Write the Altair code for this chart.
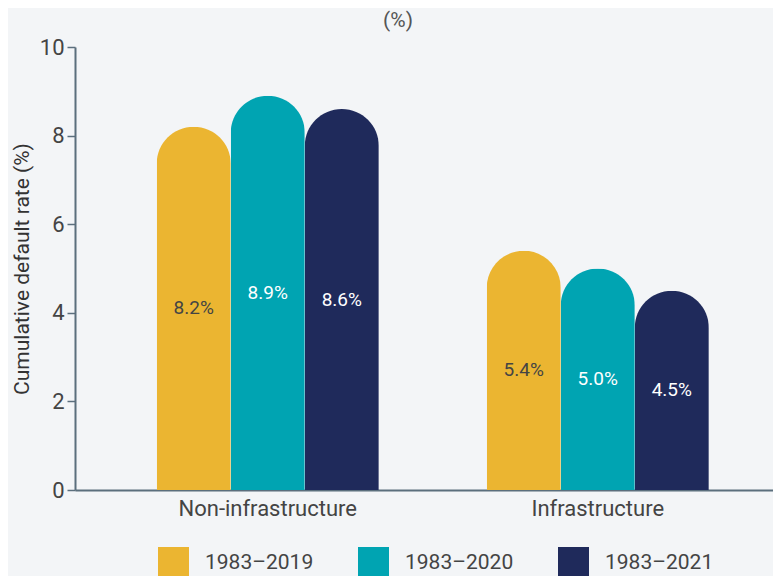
import altair as alt
import pandas as pd

categories = ["Non-infrastructure", "Infrastructure"]
periods = ["1983–2019", "1983–2020", "1983–2021"]
values_non_infra = [8.2, 8.9, 8.6]
values_infra = [5.4, 5.0, 4.5]
colors = ["#ebb531", "#00a4b2", "#1f2a5b"]
label_colors = ["#444444", "#ffffff", "#ffffff"]

rows = []
for cat, vals in zip(categories, [values_non_infra, values_infra]):
    for p, v, lc in zip(periods, vals, label_colors):
        rows.append({"category": cat, "period": p, "value": v,
                     "label": f"{v:.1f}%", "mid": v / 2, "lc": lc})
df = pd.DataFrame(rows)

FONT = "Roboto"

x = alt.X("category:N", sort=categories, title=None,
          scale=alt.Scale(paddingInner=0.327, paddingOuter=0.221, align=0.56),
          axis=alt.Axis(labelAngle=0, labelFontSize=22, labelColor="#444444",
                        labelFont=FONT, ticks=False, labelPadding=8,
                        domainColor="#5b6f7d", domainWidth=2))
xo = alt.XOffset("period:N", sort=periods,
                 scale=alt.Scale(paddingInner=0, paddingOuter=0))

bars = alt.Chart(df).mark_bar(cornerRadiusTopLeft=37, cornerRadiusTopRight=37).encode(
    x=x,
    xOffset=xo,
    y=alt.Y("value:Q", title="Cumulative default rate (%)",
            scale=alt.Scale(domain=[0, 10]),
            axis=alt.Axis(values=[0, 2, 4, 6, 8, 10], grid=False,
                          labelFontSize=22, labelColor="#444444", labelFont=FONT,
                          titleFontSize=21, titleColor="#333333", titleFont=FONT,
                          titleFontWeight="normal", titlePadding=7,
                          tickSize=8, tickColor="#5b6f7d", tickWidth=1.5,
                          labelPadding=3, domainColor="#5b6f7d", domainWidth=2)),
    color=alt.Color("period:N", sort=periods,
                    scale=alt.Scale(domain=periods, range=colors),
                    legend=alt.Legend(title=None, orient="none", legendX=83, legendY=500,
                                      direction="horizontal", symbolType="square",
                                      symbolSize=961, symbolStrokeWidth=0,
                                      labelFontSize=21, labelColor="#444444",
                                      labelFont=FONT, labelOffset=16,
                                      columnPadding=44)),
)

labels = alt.Chart(df).mark_text(fontSize=19, font=FONT, baseline="middle").encode(
    x=alt.X("category:N", sort=categories),
    xOffset=alt.XOffset("period:N", sort=periods),
    y=alt.Y("mid:Q"),
    text="label:N",
    color=alt.Color("lc:N", scale=None),
)

chart = alt.layer(bars, labels).properties(
    width=698, height=443,
    autosize=alt.AutoSizeParams(type="none"),
    padding={"left": 67, "top": 39, "right": 0, "bottom": 100},
    background="#f3f5f7",
    title=alt.TitleParams("(%)", fontSize=21, color="#555555", font=FONT,
                          fontWeight="normal", anchor="middle", dx=-26, offset=5),
).configure_view(stroke=None)

chart.save("out.html", embed_options={"renderer": "svg", "actions": False})
